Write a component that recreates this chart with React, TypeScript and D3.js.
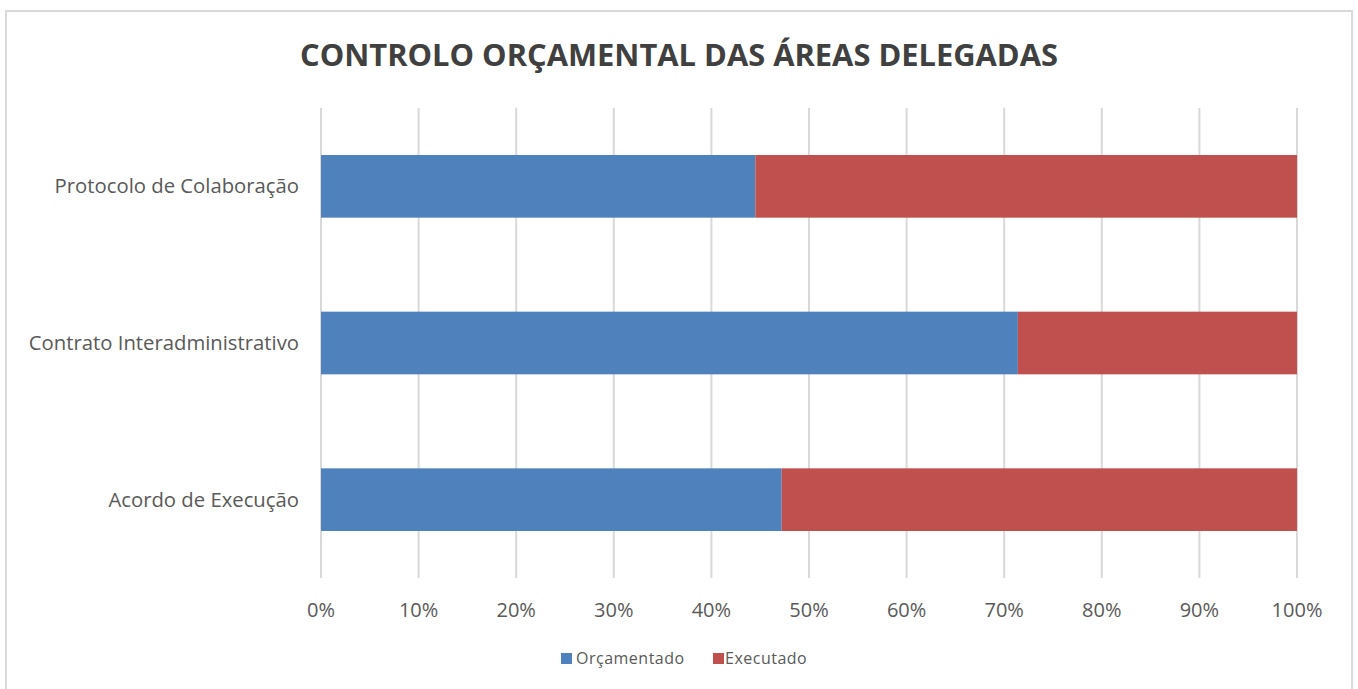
import React from "react";
import * as d3 from "d3";

const title = "CONTROLO ORÇAMENTAL DAS ÁREAS DELEGADAS";
const categories = ["Protocolo de Colaboração", "Contrato Interadministrativo", "Acordo de Execução"];
const seriesNames = ["Orçamentado", "Executado"];
const orcamentado = [44.5, 71.4, 47.2];
const executado = [55.5, 28.6, 52.8];
const ticks = [0, 10, 20, 30, 40, 50, 60, 70, 80, 90, 100];
const colors = ["#4F81BD", "#C0504D"];

const W = 1358;
const H = 689;
const FONT = "'Open Sans', 'Segoe UI', sans-serif";

export default function App() {
  const left = 321, right = 1297, top = 108, bottom = 578;
  const x = d3.scaleLinear().domain([0, 100]).range([left, right]);
  const y = d3.scaleBand<string>().domain(categories).range([top, bottom]).paddingInner(0.6).paddingOuter(0.3);

  const rows = categories.map((c, i) => {
    const tot = orcamentado[i] + executado[i];
    return { c, a: (orcamentado[i] / tot) * 100, b: (executado[i] / tot) * 100 };
  });
  const stack = d3.stack<any>().keys(["a", "b"])(rows);

  const legendItems = [
    { name: seriesNames[0], color: colors[0], x: 561, tx: 576 },
    { name: seriesNames[1], color: colors[1], x: 713, tx: 725 },
  ];

  return (
    <svg width={W} height={H} style={{ position: "absolute", left: 0, top: 0, background: "#fff" }} fontFamily={FONT}>
      <rect x={6} y={11} width={1346} height={H + 20} fill="#fff" stroke="#d9d9d9" strokeWidth={2} />
      <text x={679} y={66} textAnchor="middle" fontSize={31} fontWeight={700} fill="#404040" textLength={758} lengthAdjust="spacingAndGlyphs">
        {title}
      </text>
      {ticks.map((t) => (
        <line key={t} x1={x(t)} x2={x(t)} y1={top} y2={bottom} stroke="#d9d9d9" strokeWidth={2} />
      ))}
      {stack.map((s, si) => (
        <g key={si} fill={colors[si]}>
          {s.map((d, i) => (
            <rect key={i} x={x(d[0])} width={x(d[1]) - x(d[0])} y={y(categories[i])} height={y.bandwidth()} />
          ))}
        </g>
      ))}
      {categories.map((c) => (
        <text key={c} x={299} y={(y(c) as number) + y.bandwidth() / 2} dy="0.35em" textAnchor="end" fontSize={20.3} fill="#595959">
          {c}
        </text>
      ))}
      {ticks.map((t) => (
        <text key={t} x={x(t)} y={617} textAnchor="middle" fontSize={20} fill="#595959">
          {t + "%"}
        </text>
      ))}
      {legendItems.map((l) => (
        <g key={l.name}>
          <rect x={l.x} y={653} width={11} height={11} fill={l.color} />
          <text x={l.tx} y={664} fontSize={16} letterSpacing={0.5} fill="#595959">
            {l.name}
          </text>
        </g>
      ))}
    </svg>
  );
}
